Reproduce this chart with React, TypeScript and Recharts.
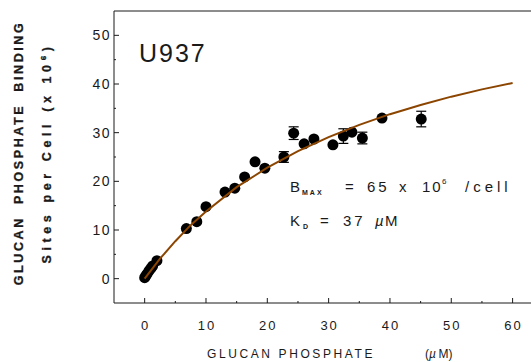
import React from "react";
import {
  ScatterChart,
  Scatter,
  XAxis,
  YAxis,
  ErrorBar,
  ReferenceLine,
} from "recharts";

// binding data (concentration in µM, sites per cell x 10^6)
const concentration = [
  0, 0.2, 0.4, 0.7, 1.0, 1.3, 2.0, 6.8, 8.5, 10.0, 13.1, 14.7, 16.3, 18.0,
  19.6, 22.7, 24.3, 26.0, 27.6, 30.7, 32.4, 33.8, 35.5, 38.7, 45.1,
];
const sites = [
  0.2, 0.6, 1.0, 1.6, 2.1, 2.6, 3.7, 10.3, 11.7, 14.8, 17.8, 18.6, 20.9,
  24.0, 22.7, 25.0, 29.9, 27.7, 28.7, 27.5, 29.3, 30.1, 28.9, 33.0, 32.8,
];
const sitesErr = [
  0, 0, 0, 0, 0, 0, 0, 0, 0, 0, 0, 0, 0, 0, 0, 1.1, 1.3, 0, 0, 0, 1.5, 0,
  1.2, 0, 1.6,
];

// fitted saturation curve (Bmax 65, Kd 37)
const curveX = [0, 2.5, 5, 7.5, 10, 15, 20, 25, 30, 35, 40, 45, 50, 55, 60];
const curveY = [
  0, 4.1, 7.7, 11.0, 13.8, 18.8, 22.8, 26.2, 29.1, 31.6, 33.8, 35.7, 37.4,
  38.9, 40.2,
];

const xTicks = [0, 5, 10, 15, 20, 25, 30, 35, 40, 45, 50, 55, 60];
const yTicks = [0, 5, 10, 15, 20, 25, 30, 35, 40, 45, 50];

const points = concentration.map((x, i) => ({ x, y: sites[i], err: sitesErr[i] }));
const curve = curveX.map((x, i) => ({ x, y: curveY[i] }));

const FONT = "'Liberation Sans', Arial, sans-serif";
const INK = "#1a1a1a";

function XTick(props: any) {
  const { x, y, payload } = props;
  const major = payload.value % 10 === 0;
  return (
    <g>
      <line x1={x} x2={x} y1={y} y2={y - (major ? 5 : 2)} stroke={INK} />
      {major && (
        <text
          x={x + 1}
          y={y + 26.5}
          textAnchor="middle"
          fontFamily={FONT}
          fontSize={13}
          letterSpacing={2}
          fill={INK}
        >
          {payload.value}
        </text>
      )}
    </g>
  );
}

function YTick(props: any) {
  const { x, y, payload } = props;
  const major = payload.value % 10 === 0;
  return (
    <g>
      <line x1={x} x2={x + (major ? 5 : 2)} y1={y} y2={y} stroke={INK} />
      {major && (
        <text
          x={x - 3}
          y={y + 5}
          textAnchor="end"
          fontFamily={FONT}
          fontSize={14}
          letterSpacing={1.5}
          fill={INK}
        >
          {payload.value}
        </text>
      )}
    </g>
  );
}

const Dot = (p: any) => <circle cx={p.cx} cy={p.cy} r={5.5} fill="#000" />;

export default function App() {
  return (
    <div style={{ position: "absolute", left: 0, top: 0, width: 531, height: 362 }}>
      <ScatterChart
        width={531}
        height={362}
        margin={{ top: 11, right: 0, bottom: 0, left: 0 }}
      >
        <XAxis
          type="number"
          dataKey="x"
          domain={[-5, 63]}
          ticks={xTicks}
          interval={0}
          height={59}
          tickSize={0}
          tickMargin={0}
          axisLine={{ stroke: INK }}
          tickLine={false}
          tick={(p: any) => <XTick {...p} />}
        />
        <YAxis
          type="number"
          dataKey="y"
          domain={[-5, 55]}
          ticks={yTicks}
          interval={0}
          width={114}
          tickSize={0}
          tickMargin={0}
          axisLine={{ stroke: INK }}
          tickLine={false}
          tick={(p: any) => <YTick {...p} />}
        />
        <ReferenceLine y={55} stroke={INK} ifOverflow="extendDomain" />
        <Scatter data={points} shape={Dot} isAnimationActive={false}>
          <ErrorBar dataKey="err" direction="y" width={5} stroke="#000" strokeWidth={1.2} />
        </Scatter>
        <Scatter
          data={curve}
          line={{ stroke: "#8B4500", strokeWidth: 2 }}
          lineType="joint"
          shape={() => null}
          isAnimationActive={false}
        />

        <text x={139} y={62} fontFamily={FONT} fontSize={25} letterSpacing={2} fill={INK}>
          U937
        </text>

        <text fontFamily={FONT} fill={INK} fontSize={15}>
          <tspan x={290} y={192}>B</tspan>
          <tspan x={302} y={195} fontSize={7} fontWeight="bold" letterSpacing={2}>MAX</tspan>
          <tspan x={345} y={192}>=</tspan>
          <tspan x={367} y={192} letterSpacing={3}>65</tspan>
          <tspan x={399} y={192}>x</tspan>
          <tspan x={422} y={192} letterSpacing={2}>10</tspan>
          <tspan x={442} y={184} fontSize={8}>6</tspan>
          <tspan x={465} y={192} letterSpacing={4}>/cell</tspan>
        </text>
        <text fontFamily={FONT} fill={INK} fontSize={15}>
          <tspan x={290} y={226}>K</tspan>
          <tspan x={303} y={229} fontSize={7} fontWeight="bold">D</tspan>
          <tspan x={320} y={226}>=</tspan>
          <tspan x={343} y={226} letterSpacing={3}>37</tspan>
          <tspan x={375} y={226} fontStyle="italic">µ</tspan>
          <tspan x={385} y={226}>M</tspan>
        </text>

        <text fontFamily={FONT} fill={INK} fontSize={12} letterSpacing={2.6}>
          <tspan x={207} y={358}>GLUCAN PHOSPHATE</tspan>
          <tspan x={425} y={358} letterSpacing={0}>(</tspan>
          <tspan fontStyle="italic">µ</tspan>
          <tspan letterSpacing={0}>M)</tspan>
        </text>

        <text
          transform="translate(23,153) rotate(-90)"
          textAnchor="middle"
          fontFamily={FONT}
          fontWeight="bold"
          fontSize={12.5}
          letterSpacing={2.6}
          fill={INK}
          stroke={INK}
          strokeWidth={0.3}
          style={{ whiteSpace: "pre" }}
        >
          GLUCAN  PHOSPHATE  BINDING
        </text>
        <text
          transform="translate(51,153) rotate(-90)"
          textAnchor="middle"
          fontFamily={FONT}
          fontWeight="bold"
          fontSize={12.5}
          letterSpacing={4.6}
          fill={INK}
          stroke={INK}
          strokeWidth={0.3}
          style={{ whiteSpace: "pre" }}
        >
          Sites per Cell (x 10
          <tspan dy={-5} fontSize={8}>6</tspan>
          <tspan dy={5}>)</tspan>
        </text>
      </ScatterChart>
    </div>
  );
}
